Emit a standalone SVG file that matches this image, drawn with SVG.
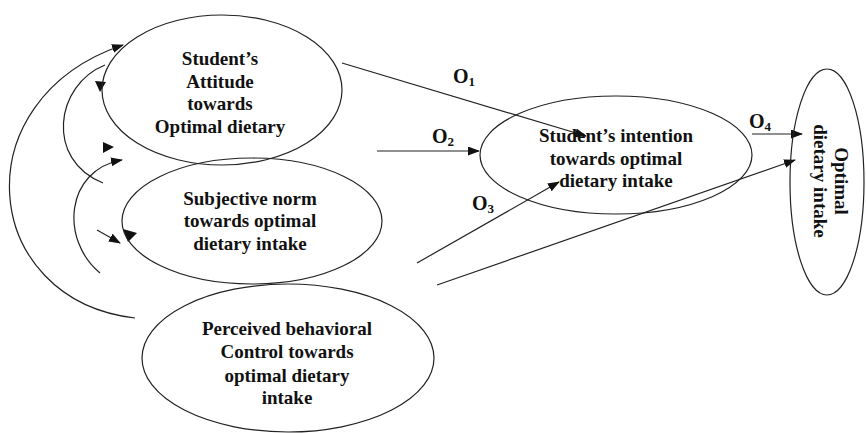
<svg xmlns="http://www.w3.org/2000/svg" width="866" height="433" viewBox="0 0 866 433">
<defs>
<style>
.node ellipse{fill:none;stroke:#222;stroke-width:1.2}
text{font-family:'Liberation Serif','DejaVu Serif',serif;font-weight:700;font-size:19px;fill:#111}
.n text{text-anchor:middle}
.c path,.c line{fill:none;stroke:#222;stroke-width:1.2}
.ah{fill:#111}
.lbl{font-size:20px}
.sub{font-size:13px}
</style>
<marker id="arr" markerUnits="userSpaceOnUse" markerWidth="12" markerHeight="10" refX="11" refY="4.5" orient="auto">
<path d="M0,0 L12,4.5 L0,9 z" fill="#111"/>
</marker>
</defs>
<rect width="866" height="433" fill="#fff"/>
<g id="connectors" class="c">
<path d="M135,318 C-20,300 -40,100 123,45" marker-end="url(#arr)"/>
<path d="M105,65 C55,85 45,160 103,183"/>
<path d="M100,273 C60,240 65,170 122,160" marker-end="url(#arr)"/>
<line x1="97" y1="230" x2="120" y2="243" marker-end="url(#arr)"/>
<polygon class="ah" points="95,81 106,82 100,92"/>
<polygon class="ah" points="103,142 114,147 103,153"/>
<polygon class="ah" points="123,229 137,233 128,242"/>
<line x1="342" y1="63" x2="586" y2="136" marker-end="url(#arr)"/>
<line x1="377" y1="151" x2="479" y2="151" marker-end="url(#arr)"/>
<line x1="417" y1="263" x2="559" y2="182" marker-end="url(#arr)"/>
<line x1="437" y1="285" x2="795" y2="160" marker-end="url(#arr)"/>
<line x1="752" y1="134" x2="802" y2="134" marker-end="url(#arr)"/>
<text class="lbl" x="453" y="83">O<tspan class="sub" dy="3">1</tspan></text>
<text class="lbl" x="432" y="143">O<tspan class="sub" dy="3">2</tspan></text>
<text class="lbl" x="472" y="210">O<tspan class="sub" dy="3">3</tspan></text>
<text class="lbl" x="749" y="128">O<tspan class="sub" dy="3">4</tspan></text>
</g>
<g id="attitude" class="node n">
<ellipse cx="222" cy="90" rx="120" ry="75"/>
<text x="220" y="65">Student’s</text>
<text x="220" y="88">Attitude</text>
<text x="220" y="110">towards</text>
<text x="220" y="133">Optimal dietary</text>
</g>
<g id="subjective" class="node n">
<ellipse cx="252" cy="221" rx="130" ry="63"/>
<text x="250" y="205">Subjective norm</text>
<text x="250" y="227">towards optimal</text>
<text x="250" y="250">dietary intake</text>
</g>
<g id="perceived" class="node n">
<ellipse cx="288" cy="358" rx="146" ry="74"/>
<text x="287" y="335">Perceived behavioral</text>
<text x="287" y="358">Control towards</text>
<text x="287" y="382">optimal dietary</text>
<text x="287" y="404">intake</text>
</g>
<g id="intention" class="node n">
<ellipse cx="616" cy="155" rx="136" ry="59"/>
<text x="616" y="142">Student’s intention</text>
<text x="616" y="165">towards optimal</text>
<text x="616" y="187">dietary intake</text>
</g>
<g id="outcome" class="node n">
<ellipse cx="827" cy="182" rx="37" ry="113"/>
<g transform="translate(835,181) rotate(90)">
<text x="0" y="0">Optimal</text>
<text x="0" y="21">dietary intake</text>
</g>
</g>
</svg>
